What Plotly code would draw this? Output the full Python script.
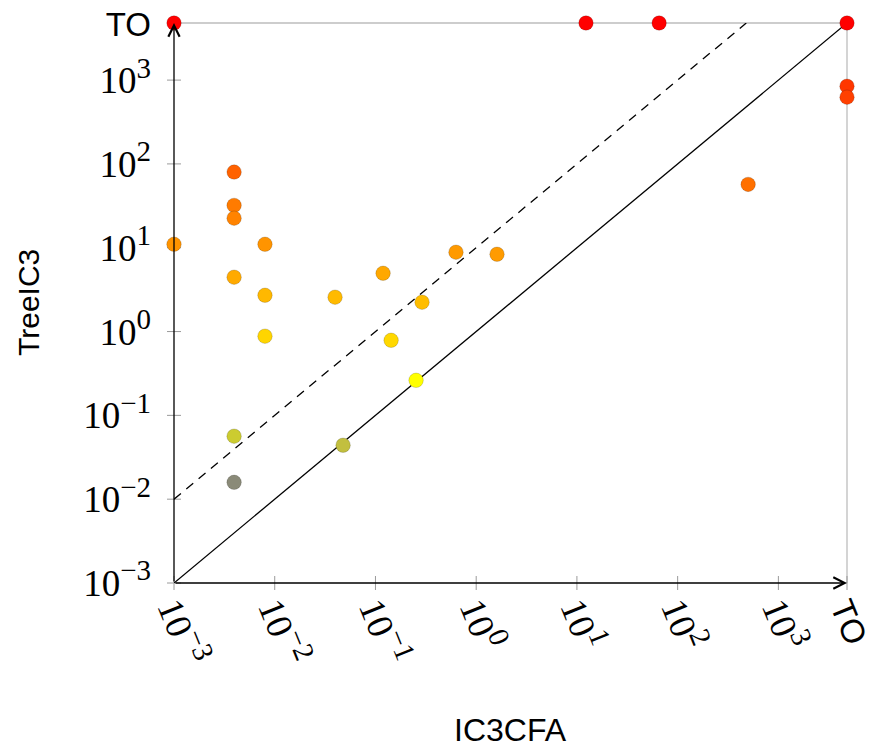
import math
import plotly.graph_objects as go

# ---- data (seconds); TO = timeout value plotted at the axis end ----
TO = 4800
XMIN = 1e-3

ic3cfa = [1e-3, 12.3, 65.5, TO, TO, TO, 501,
          0.00395, 0.00395, 0.00395, 1e-3, 0.0080, 0.00395, 0.0080, 0.0080,
          0.0397, 0.119, 0.143, 0.290, 0.63, 1.61, 0.253,
          0.00395, 0.00395, 0.0477]
treeic3 = [TO, TO, TO, TO, 845, 625, 57,
           80, 32, 22.5, 11.0, 11.0, 4.45, 2.71, 0.88,
           2.57, 4.96, 0.787, 2.24, 8.84, 8.36, 0.262,
           0.0564, 0.0159, 0.044]

tick_vals = [1e-3, 1e-2, 1e-1, 1e0, 1e1, 1e2, 1e3, TO]
tick_exps = ["−3", "−2", "−1", "0", "1", "2", "3"]
tick_text = ['10<sup><span style="font-size:29px">%s</span></sup>' % e for e in tick_exps] + [
    '<span style="font-family:Liberation Sans, Arial, sans-serif;font-size:33px">TO</span>']

# ---- styling ----
colorscale = [
    [0.000, "#8a8a78"],
    [0.080, "#c2be40"],
    [0.100, "#cccc30"],
    [0.223, "#ffff00"],
    [0.310, "#ffd800"],
    [0.400, "#ffbb00"],
    [0.447, "#ffaa00"],
    [0.500, "#ff9a00"],
    [0.600, "#ff7c00"],
    [0.650, "#ff7000"],
    [0.675, "#ff6200"],
    [0.840, "#ff4000"],
    [1.000, "#ff0000"],
]
lo = math.log10(XMIN)
hi = math.log10(TO)

fig = go.Figure()

# reference lines
fig.add_trace(go.Scatter(x=[XMIN, TO], y=[XMIN, TO], mode="lines",
                         line=dict(color="black", width=1.3),
                         hoverinfo="skip", showlegend=False))
fig.add_trace(go.Scatter(x=[XMIN, TO / 10], y=[XMIN * 10, TO], mode="lines",
                         line=dict(color="black", width=1.3, dash="9px,7px"),
                         hoverinfo="skip", showlegend=False))

# points
fig.add_trace(go.Scatter(
    x=ic3cfa, y=treeic3, mode="markers", cliponaxis=False, showlegend=False,
    marker=dict(size=14.5, color=[math.log10(v) for v in treeic3],
                colorscale=colorscale, cmin=-1.8, cmax=hi,
                line=dict(color="rgba(0,0,0,0.16)", width=1)),
))

shapes = []
# gray frame (top and right)
shapes.append(dict(type="line", xref="paper", yref="paper", x0=0, x1=1, y0=1, y1=1,
                   line=dict(color="#bdbdbd", width=1.3), layer="below"))
shapes.append(dict(type="line", xref="paper", yref="paper", x0=1, x1=1, y0=0, y1=1,
                   line=dict(color="#bdbdbd", width=1.3), layer="below"))
# tick marks crossing the axes
for v in tick_vals:
    f = (math.log10(v) - lo) / (hi - lo)
    shapes.append(dict(type="line", xref="paper", yref="paper", x0=f, x1=f,
                       ysizemode="pixel", yanchor=0, y0=-7, y1=7,
                       line=dict(color="#9a9a9a", width=1), layer="below"))
    shapes.append(dict(type="line", xref="paper", yref="paper", y0=f, y1=f,
                       xsizemode="pixel", xanchor=0, x0=-7, x1=7,
                       line=dict(color="#9a9a9a", width=1), layer="below"))

annotations = [
    # axis arrows
    dict(xref="paper", yref="paper", axref="pixel", ayref="pixel",
         x=1, y=0, ax=-673, ay=0, showarrow=True, arrowhead=5,
         arrowsize=1.7, arrowwidth=1.3, arrowcolor="black", text=""),
    dict(xref="paper", yref="paper", axref="pixel", ayref="pixel",
         x=0, y=1, ax=0, ay=560, showarrow=True, arrowhead=5,
         arrowsize=1.7, arrowwidth=1.3, arrowcolor="black", text=""),
    # axis titles
    dict(xref="paper", yref="paper", x=0.5, y=0, yshift=-147, showarrow=False,
         text="IC3CFA", xanchor="center", yanchor="middle",
         font=dict(family="Liberation Sans, Arial, sans-serif", size=32, color="black")),
    dict(xref="paper", yref="paper", x=0, y=0.5, xshift=-146, showarrow=False,
         text="TreeIC3", textangle=-90, xanchor="center", yanchor="middle",
         font=dict(family="Liberation Sans, Arial, sans-serif", size=30, color="black")),
]

axis_common = dict(type="log", range=[lo, hi], showgrid=False, zeroline=False,
                   showline=False, ticks="", tickmode="array",
                   tickvals=tick_vals, ticktext=tick_text,
                   tickfont=dict(family="Liberation Serif, Times New Roman, serif",
                                 size=37, color="black"),
                   ticklabeloverflow="allow", automargin=False)

# the page body adds an 8px offset on the left/top
fig.update_layout(
    width=869, height=740,
    margin=dict(l=166, r=30, t=15, b=165),
    paper_bgcolor="white", plot_bgcolor="white",
    xaxis=dict(**axis_common, tickangle=68, ticklabelstandoff=-4),
    yaxis=dict(**axis_common, ticklabelstandoff=22),
    shapes=shapes, annotations=annotations,
)

fig.write_html("out.html")
